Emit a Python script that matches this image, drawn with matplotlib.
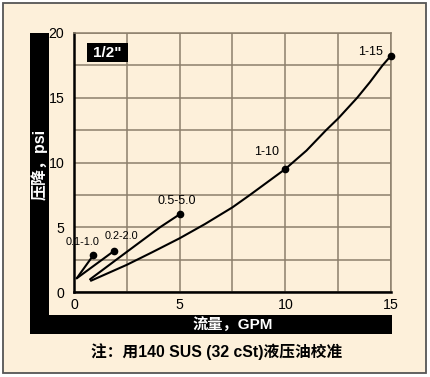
import matplotlib.pyplot as plt
from matplotlib.patches import Rectangle

plt.rcParams['font.family'] = ['Liberation Sans', 'Noto Sans CJK SC', 'DejaVu Sans']

# curve data (flow GPM, pressure drop psi)
x_01 = [0.13, 0.91]
y_01 = [1.06, 2.83]
x_02 = [0.13, 1.91]
y_02 = [1.06, 3.19]
x_05 = [0.76, 2.5, 4.07, 5.0]
y_05 = [0.98, 3.1, 5.0, 6.0]
x_1 = [0.8, 2.5, 3.7, 5.0, 6.2, 7.5, 8.33, 10.0, 11.0, 11.93, 12.5, 13.4, 14.0, 14.6, 15.0]
y_1 = [0.87, 2.1, 3.07, 4.15, 5.25, 6.54, 7.5, 9.5, 10.92, 12.5, 13.4, 15.0, 16.2, 17.5, 18.25]

# end markers of each range and their labels
dot_x = [0.91, 1.91, 5.0, 10.0, 15.0]
dot_y = [2.83, 3.19, 6.0, 9.5, 18.25]
labels = ["0.1-1.0", "0.2-2.0", "0.5-5.0", "1-10", "1-15"]

xticks = [0, 5, 10, 15]
yticks = [0, 5, 10, 15, 20]

W, H = 431, 377
cream = "#fdf0da"
gridc = "#8c7f6c"

fig = plt.figure(figsize=(W / 100, H / 100), dpi=100, facecolor="white")

def px(x0, y0, x1, y1):
    # pixel box -> figure fraction (left, bottom, width, height)
    return (x0 / W, 1 - y1 / H, (x1 - x0) / W, (y1 - y0) / H)

# outer cream frame
l, b, w, h = px(3, 3, 426, 373)
fig.patches.append(Rectangle((l, b), w, h, transform=fig.transFigure,
                             facecolor=cream, edgecolor="#555555", lw=1.3, zorder=-3))
# black L-shaped band
for box in [px(30, 33, 49, 334), px(30, 315, 392, 334)]:
    fig.patches.append(Rectangle(box[:2], box[2], box[3], transform=fig.transFigure,
                                 facecolor="black", edgecolor="none", zorder=-2))

ax = fig.add_axes(px(74, 33, 391, 292))
ax.set_facecolor(cream)
ax.set_xlim(0, 15)
ax.set_ylim(0, 20)
ax.set_xticks(xticks)
ax.set_yticks(yticks)
ax.set_xticks([2.5, 7.5, 12.5], minor=True)
ax.set_yticks([2.5, 7.5, 12.5, 17.5], minor=True)
ax.grid(True, which="both", color=gridc, lw=1.1)
ax.set_axisbelow(True)
ax.tick_params(which="both", length=0)
ax.tick_params(axis="x", pad=4, labelsize=10.2)
ax.tick_params(axis="y", pad=7, labelsize=10.2)
for s in ["left", "bottom"]:
    ax.spines[s].set_color("black")
    ax.spines[s].set_linewidth(1.8)
for s in ["top", "right"]:
    ax.spines[s].set_color(gridc)
    ax.spines[s].set_linewidth(1.1)

for xs, ys in [(x_01, y_01), (x_02, y_02), (x_05, y_05), (x_1, y_1)]:
    ax.plot(xs, ys, color="black", lw=1.5, solid_capstyle="round", solid_joinstyle="round")
ax.plot(dot_x, dot_y, "o", color="black", ms=4.5, clip_on=False, zorder=5)

offsets = [(-7.4, 9.6), (5.3, 10.8), (-2.2, 9.8), (-13.5, 12.2), (-14.8, 2.9)]
sizes = [7.8, 7.8, 9, 9, 9]
for lx, ly, t, off, fs in zip(dot_x, dot_y, labels, offsets, sizes):
    ax.annotate(t, (lx, ly), xytext=off, textcoords="offset points",
                ha="center", va="center", fontsize=fs)

# "1/2"" tag
ax.add_patch(Rectangle((0.041, 0.888), 0.129, 0.073, transform=ax.transAxes,
                       facecolor="black", edgecolor="none", zorder=6))
ax.text(0.105, 0.922, '1/2"', transform=ax.transAxes, ha="center", va="center",
        color="white", fontsize=11, fontweight="bold", zorder=7)

fig.text(39.5 / W, 1 - 164 / H, "压降，psi", rotation=90, ha="center", va="center",
         color="white", fontsize=11.5, fontweight="bold")
fig.text(232.5 / W, 1 - 324.5 / H, "流量，GPM", ha="center", va="center",
         color="white", fontsize=11, fontweight="bold")
fig.text(217 / W, 1 - 352 / H, "注：用140 SUS (32 cSt)液压油校准", ha="center", va="center",
         color="black", fontsize=11.3, fontweight="bold")

fig.savefig("out.png", dpi=100, facecolor="white")
